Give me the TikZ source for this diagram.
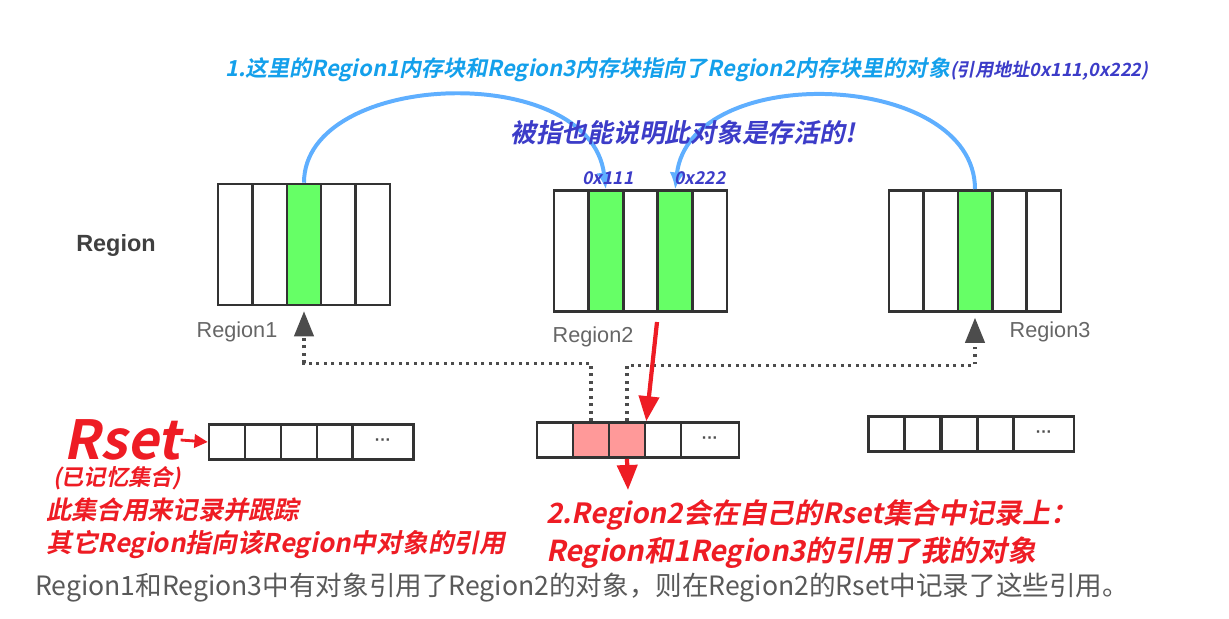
\documentclass[tikz,border=0pt]{standalone}
\usepackage{fontspec}
\setmainfont{Liberation Sans}
\newfontfamily\cjk{Noto Sans CJK SC}
\newfontfamily\cjkbi{Noto Sans CJK SC Bold}[FakeSlant=0.2]
\usetikzlibrary{positioning}
\usetikzlibrary{arrows.meta}
\definecolor{titleblue}{RGB}{20,160,235}
\definecolor{noteblue}{RGB}{60,60,200}
\definecolor{notered}{RGB}{238,28,36}
\definecolor{cellgreen}{RGB}{102,255,102}
\definecolor{cellpink}{RGB}{255,153,153}
\definecolor{arcblue}{RGB}{95,175,255}

\begin{document}
\begin{tikzpicture}[x=0.03cm,y=-0.03cm,
        cell/.style={draw=black!80,line width=2.2pt,minimum width=1.032cm,minimum height=3.63cm,inner sep=0pt},
        scell/.style={draw=black!80,line width=2.2pt,minimum width=1.08cm,minimum height=1.05cm,inner sep=0pt,font=\bfseries\fontsize{14pt}{14pt}\selectfont,text=black!70},
        graylbl/.style={inner sep=0pt,text=black!60,font=\fontsize{18.5pt}{20pt}\selectfont},
        rednote/.style={inner sep=0pt,anchor=west,text=notered,font=\cjkbi\fontsize{21.6pt}{24pt}\selectfont},
        refarc/.style={arcblue,line width=3.4pt,-{Latex[length=0.5cm,width=0.45cm]}},
        refline/.style={black!70,line width=2.6pt,dash pattern=on 2.4pt off 4pt,-{Triangle[length=0.75cm,width=0.58cm]},shorten >=0.15cm},
        redarrow/.style={notered,line width=3.6pt,-{Triangle[length=0.75cm,width=0.6cm]}}]
        \useasboundingbox (0,0) rectangle (1229,619);

        % the three regions
        \foreach \i/\f in {1/white,2/white,3/cellgreen,4/white,5/white}
            \node[cell,fill=\f] (R1c\i) at ({218+34.4*(\i-0.5)},244.5) {};
        \foreach \i/\f in {1/white,2/cellgreen,3/white,4/cellgreen,5/white}
            \node[cell,fill=\f] (R2c\i) at ({554+34.6*(\i-0.5)},251) {};
        \foreach \i/\f in {1/white,2/white,3/cellgreen,4/white,5/white}
            \node[cell,fill=\f] (R3c\i) at ({889+34.4*(\i-0.5)},251) {};

        \node[graylbl,text=black!75,font=\bfseries\fontsize{20pt}{22pt}\selectfont] (Rg) at (116,245) {Region};
        \node[graylbl] (Rg1) at (237,332) {Region1};
        \node[graylbl] (Rg2) at (593,337) {Region2};
        \node[graylbl] (Rg3) at (1050,332) {Region3};

        % the remembered sets
        \foreach \i in {1,...,4}
            \node[scell] (S1c\i) at ({209+36*(\i-0.5)},442) {};
        \node[scell,minimum width=1.83cm] (S1c5) at (383,442) {···};
        \foreach \i/\f in {1/white,2/cellpink,3/cellpink,4/white}
            \node[scell,fill=\f] (S2c\i) at ({537+36*(\i-0.5)},440) {};
        \node[scell,minimum width=1.74cm] (S2c5) at (710,440) {···};
        \foreach \i in {1,...,4}
            \node[scell] (S3c\i) at ({868+36.5*(\i-0.5)},434) {};
        \node[scell,minimum width=1.8cm] (S3c5) at (1044,434) {···};

        \draw[refline] (S2c2.north) -- +(0,-58) -| (R1c3.south);
        \draw[refline] (S2c3.north) -- +(0,-56) -| (R3c3.south);

        % references between regions
        \draw[refarc] (R1c3.north) .. controls (304,70) and (590,60) .. (R2c2.north);
        \draw[refarc] (R3c3.north) .. controls (975,70) and (690,60) .. (R2c4.north);

        \node[inner sep=0pt,anchor=west,text=titleblue,font=\cjkbi\fontsize{18.8pt}{22pt}\selectfont] (T1) at (225,70)
            {1.这里的Region1内存块和Region3内存块指向了Region2内存块里的对象{\color{noteblue}\fontsize{15.5pt}{16pt}\selectfont(引用地址0x111,0x222)}};
        \node[inner sep=0pt,anchor=west,text=noteblue,font=\cjkbi\fontsize{22pt}{24pt}\selectfont] (T2) at (510,133) {被指也能说明此对象是存活的!};
        \node[inner sep=0pt,text=noteblue,font=\cjkbi\fontsize{15pt}{16pt}\selectfont] (A1) at (608,178) {0x111};
        \node[inner sep=0pt,text=noteblue,font=\cjkbi\fontsize{15pt}{16pt}\selectfont] (A2) at (700,178) {0x222};

        % red notes
        \node[inner sep=0pt,text=notered,font=\cjkbi\fontsize{46pt}{48pt}\selectfont] (Rs) at (122,440) {Rset};
        \draw[notered,line width=2.4pt,-{Triangle[length=0.4cm,width=0.4cm]}] (Rs.east) -- (S1c1.west);
        \node[rednote,font=\cjkbi\fontsize{19pt}{20pt}\selectfont] (N0) at (53,478) {(已记忆集合)};
        \node[rednote] (N1) at (46,510) {此集合用来记录并跟踪};
        \node[rednote,font=\cjkbi\fontsize{22pt}{24pt}\selectfont] (N2) at (46,545) {其它Region指向该Region中对象的引用};

        \coordinate (redA) at (657,322);
        \coordinate (redB) at (628,490);
        \draw[redarrow] (redA) -- (S2c3.north east);
        \draw[redarrow] (S2c3.south) -- (redB);
        \node[rednote,font=\cjkbi\fontsize{23.8pt}{26pt}\selectfont] (N3) at (546,515) {2.Region2会在自己的Rset集合中记录上：};
        \node[rednote,font=\cjkbi\fontsize{24.6pt}{26pt}\selectfont] (N4) at (546,553) {Region和1Region3的引用了我的对象};

        \node[inner sep=0pt,anchor=west,text=black!65,font=\cjk\fontsize{22.7pt}{24pt}\selectfont] (B) at (35,588)
            {Region1和Region3中有对象引用了Region2的对象，则在Region2的Rset中记录了这些引用。};
\end{tikzpicture}
\end{document}
